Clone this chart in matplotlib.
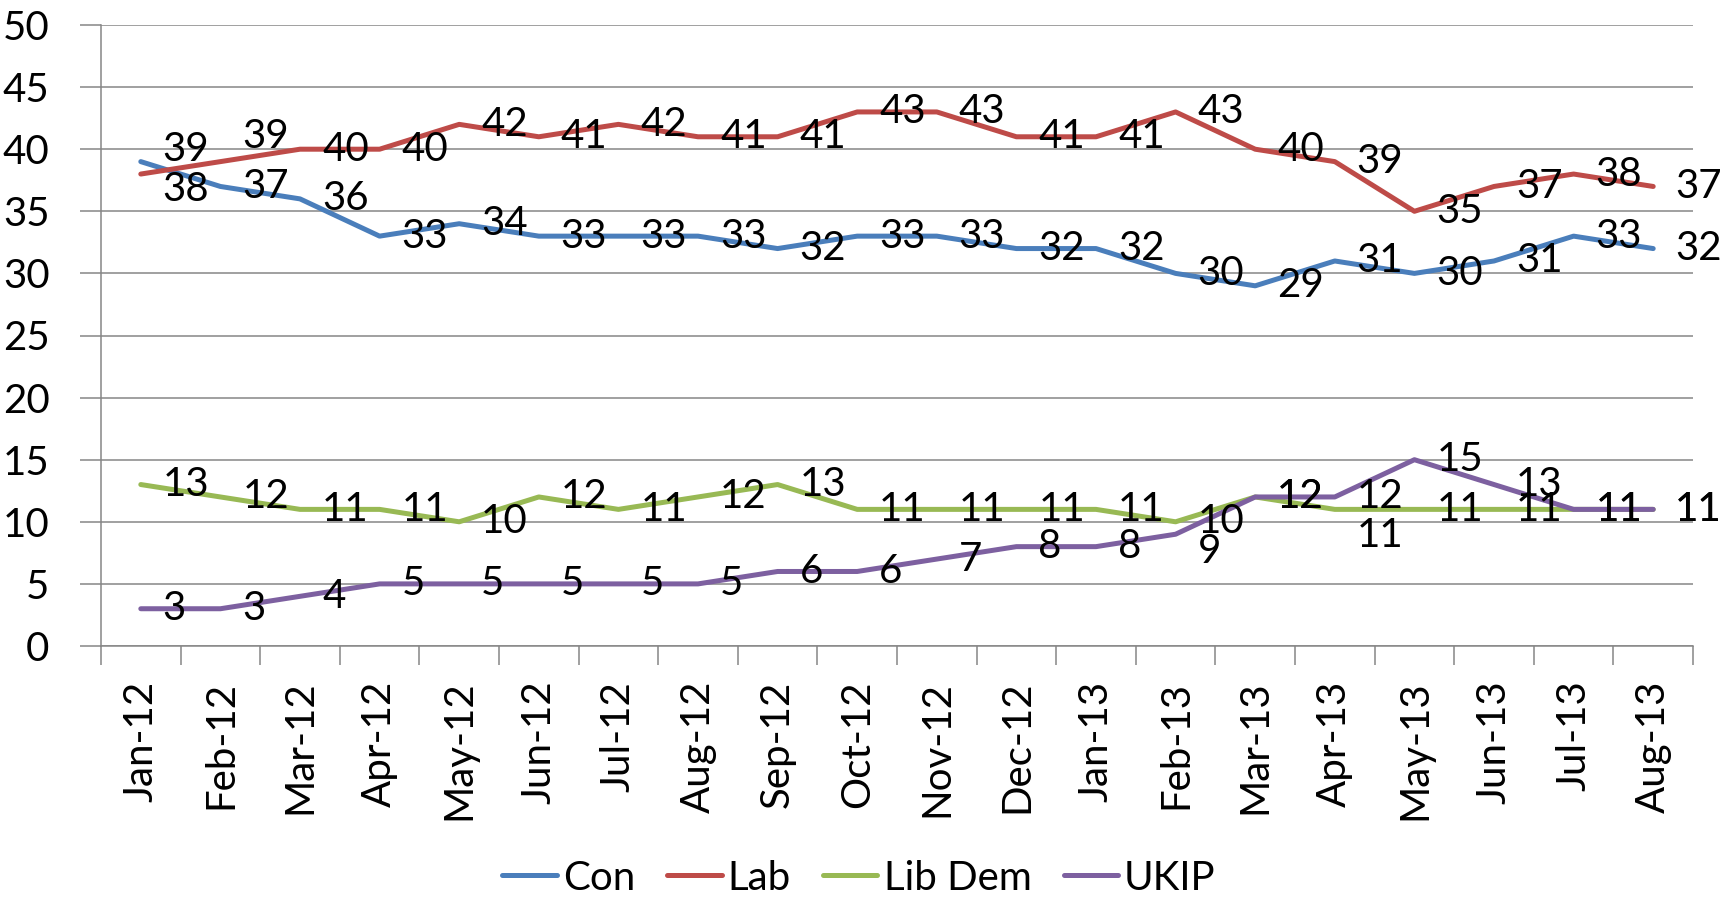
import matplotlib
matplotlib.use('Agg')
import matplotlib.pyplot as plt
import numpy as np

plt.rcParams['font.family'] = ['Lato', 'DejaVu Sans']

# months shown on the category axis
months = ['Jan-12', 'Feb-12', 'Mar-12', 'Apr-12', 'May-12', 'Jun-12', 'Jul-12',
          'Aug-12', 'Sep-12', 'Oct-12', 'Nov-12', 'Dec-12', 'Jan-13', 'Feb-13',
          'Mar-13', 'Apr-13', 'May-13', 'Jun-13', 'Jul-13', 'Aug-13']

# poll shares (%)
con = [39, 37, 36, 33, 34, 33, 33, 33, 32, 33, 33, 32, 32, 30, 29, 31, 30, 31, 33, 32]
lab = [38, 39, 40, 40, 42, 41, 42, 41, 41, 43, 43, 41, 41, 43, 40, 39, 35, 37, 38, 37]
libdem = [13, 12, 11, 11, 10, 12, 11, 12, 13, 11, 11, 11, 11, 10, 12, 11, 11, 11, 11, 11]
ukip = [3, 3, 4, 5, 5, 5, 5, 5, 6, 6, 7, 8, 8, 9, 12, 12, 15, 13, 11, 11]

series = [('Con', con, '#4A7EBB'),
          ('Lab', lab, '#BE4B48'),
          ('Lib Dem', libdem, '#98B954'),
          ('UKIP', ukip, '#7D60A0')]

# labels that were moved by hand in the original (series, index) -> pixel shift
nudge = {('Con', 0): 12, ('Lab', 0): -15, ('Lab', 1): 25,
         ('UKIP', 13): -17, ('Lib Dem', 15): -26}

FS = 29
grey = '#868686'

fig = plt.figure(figsize=(17.27, 9), dpi=100)
ax = fig.add_axes([101/1727, 1 - 646/900, (1693 - 101)/1727, (646 - 25)/900])

x = np.arange(len(months))
for name, vals, col in series:
    ax.plot(x, vals, color=col, lw=3.6, label=name, solid_joinstyle='round',
            solid_capstyle='round', zorder=3)

# data labels to the right of each point
for name, vals, col in series:
    for i, v in enumerate(vals):
        dy = nudge.get((name, i), 0)
        ax.annotate(str(v), (i, v), xytext=(22, dy), textcoords='offset pixels',
                    ha='left', va='center', fontsize=FS, color='black',
                    zorder=4, annotation_clip=False)

ax.set_xlim(-0.5, len(months) - 0.5)
ax.set_ylim(0, 50)
ax.set_yticks(range(0, 51, 5))
ax.grid(axis='y', color=grey, lw=1.1)
ax.set_axisbelow(True)

ax.set_xticks(np.arange(-0.5, len(months), 1))
ax.set_xticklabels([])
ax.set_xticks(x, minor=True)
ax.set_xticklabels(months, minor=True, rotation=90, fontsize=FS)
ax.tick_params(axis='x', which='major', length=14, width=1.1, color=grey)
ax.tick_params(axis='x', which='minor', length=0, pad=25)
ax.tick_params(axis='y', length=15, width=1.1, color=grey, labelsize=FS, pad=22)

for s in ['top', 'right']:
    ax.spines[s].set_visible(False)
for s in ['left', 'bottom']:
    ax.spines[s].set_color(grey)
    ax.spines[s].set_linewidth(1.1)

fig.legend(loc='center', bbox_to_anchor=(859/1727, 1 - 878/900), ncol=4,
           frameon=False, fontsize=FS, handlelength=1.35, handletextpad=0.15,
           columnspacing=0.8)

fig.savefig('out.png', dpi=100)
